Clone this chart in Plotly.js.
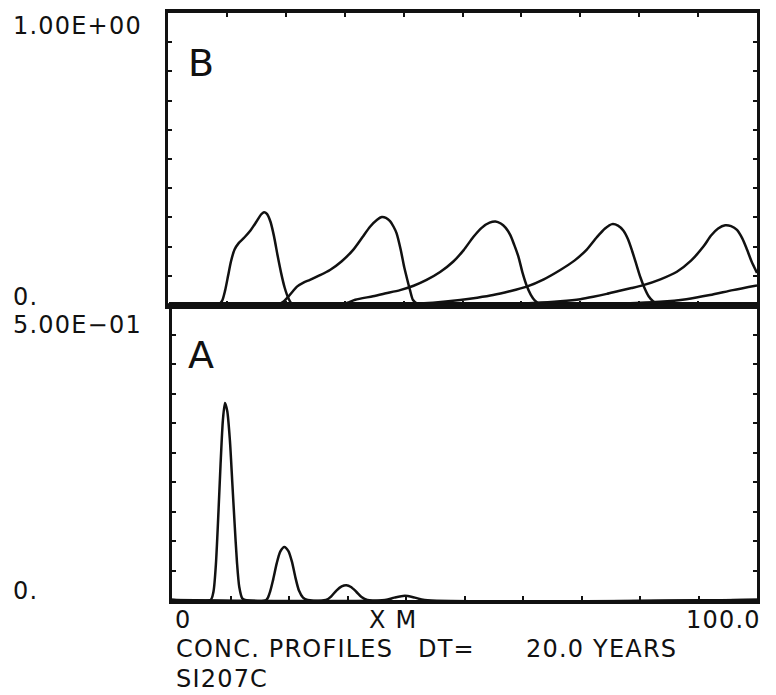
<!DOCTYPE html>
<html>
<head>
<meta charset="utf-8">
<script src="https://cdn.plot.ly/plotly-3.0.1.min.js"></script>
<style>html,body{margin:0;padding:0;background:#fff;}#plot{width:776px;height:695px;}</style>
</head>
<body>
<div id="plot"></div>
<script>
// ---- Panel B profiles (x = distance 0..100, y = concentration 0..1) ----
const b1x = [0, 8.5, 9.2, 9.7, 10.2, 10.7, 11.3, 12, 13, 14, 15, 15.8, 16.3, 16.8, 17.4, 18, 18.6, 19.2, 19.8, 20.4, 21, 22, 100];
const b1y = [0, 0, 0.015, 0.05, 0.1, 0.15, 0.19, 0.212, 0.232, 0.255, 0.285, 0.31, 0.318, 0.312, 0.285, 0.235, 0.17, 0.11, 0.06, 0.025, 0.005, 0, 0];

const b2x = [0, 18.5, 19.5, 20.4, 21.2, 21.9, 23, 24.1, 25.8, 27.5, 29.5, 31.4, 33, 34.3, 35.5, 36.3, 37, 37.7, 38.3, 38.8, 39.5, 40.1, 40.5, 41.1, 41.6, 42.4, 43.5, 100];
const b2y = [0, 0, 0.01, 0.028, 0.047, 0.063, 0.077, 0.086, 0.102, 0.12, 0.15, 0.188, 0.232, 0.268, 0.292, 0.301, 0.298, 0.287, 0.268, 0.246, 0.19, 0.13, 0.097, 0.05, 0.017, 0.003, 0, 0];

const b3x = [0, 29.2, 30.5, 31.8, 34.8, 37, 39.4, 41.7, 43.9, 46.2, 48.4, 50.2, 51.8, 53.3, 54.6, 55.6, 56.5, 57.3, 58.1, 58.8, 59.5, 60.2, 60.9, 61.6, 62.3, 63.2, 64.2, 100];
const b3y = [0, 0, 0.008, 0.018, 0.03, 0.04, 0.051, 0.066, 0.086, 0.113, 0.148, 0.188, 0.232, 0.265, 0.282, 0.286, 0.279, 0.265, 0.24, 0.205, 0.165, 0.11, 0.066, 0.035, 0.015, 0.003, 0, 0];

const b4x = [0, 38.7, 45, 49.6, 52.5, 55.2, 58, 60.9, 63.8, 66.6, 69, 71.1, 72.8, 74.2, 75.4, 76.4, 77.3, 78.1, 78.8, 79.5, 80.2, 80.9, 81.6, 82.4, 83.5, 84.5, 100];
const b4y = [0, 0.002, 0.008, 0.017, 0.025, 0.034, 0.047, 0.063, 0.088, 0.12, 0.152, 0.19, 0.232, 0.262, 0.277, 0.272, 0.255, 0.225, 0.185, 0.14, 0.095, 0.058, 0.03, 0.012, 0.002, 0, 0];

const b5x = [0, 49.6, 58, 62, 66.6, 70, 72.2, 74.5, 76.5, 78.7, 80.7, 83.6, 86.4, 88.8, 90.9, 92.2, 93.4, 94.6, 95.6, 96.6, 97.5, 98.3, 99.1, 100];
const b5y = [0, 0, 0.004, 0.007, 0.013, 0.02, 0.028, 0.038, 0.048, 0.058, 0.068, 0.088, 0.114, 0.152, 0.2, 0.238, 0.262, 0.273, 0.27, 0.257, 0.228, 0.19, 0.148, 0.11];

const b6x = [0, 65, 72, 78, 83.5, 88, 92, 95.9, 100];
const b6y = [0, 0, 0.002, 0.006, 0.011, 0.02, 0.034, 0.051, 0.067];

// ---- Panel A profiles (y = concentration 0..0.5) ----
const a1x = [0, 6.6, 7.1, 7.5, 7.9, 8.3, 8.7, 9.05, 9.45, 9.9, 10.3, 10.7, 11.1, 11.5, 12, 12.5, 100];
const a1y = [0, 0, 0.015, 0.06, 0.14, 0.23, 0.305, 0.334, 0.32, 0.27, 0.2, 0.13, 0.065, 0.022, 0.003, 0, 0];

const a2x = [0, 16.1, 16.7, 17.3, 17.9, 18.5, 19.2, 19.9, 20.5, 21.1, 21.7, 22.4, 23.2, 100];
const a2y = [0, 0, 0.012, 0.035, 0.062, 0.082, 0.09, 0.083, 0.065, 0.038, 0.016, 0.004, 0, 0];

const a3x = [0, 26.3, 27.2, 28.1, 29, 29.8, 30.6, 31.5, 32.4, 33.4, 100];
const a3y = [0, 0, 0.006, 0.016, 0.023, 0.025, 0.022, 0.014, 0.005, 0, 0];

const a4x = [0, 36.4, 38, 39.8, 41.5, 43.2, 100];
const a4y = [0, 0, 0.004, 0.007, 0.004, 0, 0];

// ---- Text labels ----
const yLabelsB = ['1.00E+00', '0.'];
const yLabelsA = ['5.00E\u221201', '0.'];
const xLabels = ['0', 'X M', '100.0'];
const panelLabels = ['B', 'A'];
const footer = ['CONC. PROFILES', 'DT=', '20.0 YEARS', 'SI207C'];

// ---- Geometry helpers (pixel -> paper) ----
const W = 776, H = 695;
const L = 168, R = 757, T = 13, B = 600;
const px = p => (p - L) / (R - L);
const py = p => (B - p) / (B - T);
const splitY = py(305);

const lineStyle = {color: '#111', width: 2.5, shape: 'spline', smoothing: 0.7};
function tr(x, y, axis) {
  return {x: x, y: y, type: 'scatter', mode: 'lines', line: lineStyle,
          xaxis: axis === 'B' ? 'x2' : 'x', yaxis: axis === 'B' ? 'y2' : 'y',
          hoverinfo: 'skip', showlegend: false};
}
const data = [
  tr(b1x, b1y, 'B'), tr(b2x, b2y, 'B'), tr(b3x, b3y, 'B'),
  tr(b4x, b4y, 'B'), tr(b5x, b5y, 'B'), tr(b6x, b6y, 'B'),
  tr(a1x, a1y, 'A'), tr(a2x, a2y, 'A'), tr(a3x, a3y, 'A'), tr(a4x, a4y, 'A')
];

const font = {family: 'DejaVu Sans', size: 24, color: '#111'};
const axBase = {showgrid: false, zeroline: false, showticklabels: false,
  showline: true, linecolor: '#111', linewidth: 2.8, mirror: 'ticks',
  ticks: 'inside', ticklen: 4, tickwidth: 2, tickcolor: '#111'};

function sp(t) { return '<span style="letter-spacing:1.2px">' + t + '</span>'; }
function ann(text, xp, yp, xanchor, size) {
  return {text: text, xref: 'paper', yref: 'paper', x: px(xp), y: py(yp),
          xanchor: xanchor || 'left', yanchor: 'middle', showarrow: false,
          font: Object.assign({}, font, size ? {size: size} : {})};
}

const layout = {
  width: W, height: H,
  margin: {l: L, r: W - R, t: T, b: H - B, pad: 0},
  paper_bgcolor: '#fff', plot_bgcolor: '#fff',
  showlegend: false,
  xaxis: Object.assign({}, axBase, {range: [0, 100], dtick: 10, domain: [px(172), 1], anchor: 'y', linewidth: 3.5}),
  yaxis: Object.assign({}, axBase, {range: [0, 0.5], dtick: 0.05, domain: [0, splitY], anchor: 'x'}),
  xaxis2: Object.assign({}, axBase, {range: [0, 100], dtick: 10, domain: [0, 1], anchor: 'y2', linewidth: 4}),
  yaxis2: Object.assign({}, axBase, {range: [0, 1], dtick: 0.1, domain: [splitY, 1], anchor: 'x2'}),
  annotations: [
    ann(sp(yLabelsB[0]), 11, 26),
    ann(sp(yLabelsB[1]), 11, 297),
    ann(sp(yLabelsA[0]), 11, 325),
    ann(sp(yLabelsA[1]), 11, 591),
    ann(panelLabels[0], 186, 63, 'left', 38),
    ann(panelLabels[1], 186, 355, 'left', 38),
    ann(sp(xLabels[0]), 173, 620),
    ann(sp(xLabels[1]), 367, 620),
    ann(sp(xLabels[2]), 763, 620, 'right'),
    ann(sp(footer[0]), 174, 649),
    ann(sp(footer[1]), 416, 649),
    ann(sp(footer[2]), 524, 649),
    ann(sp(footer[3]), 174, 679)
  ]
};

Plotly.newPlot('plot', data, layout, {staticPlot: true, displayModeBar: false});
</script>
</body>
</html>
